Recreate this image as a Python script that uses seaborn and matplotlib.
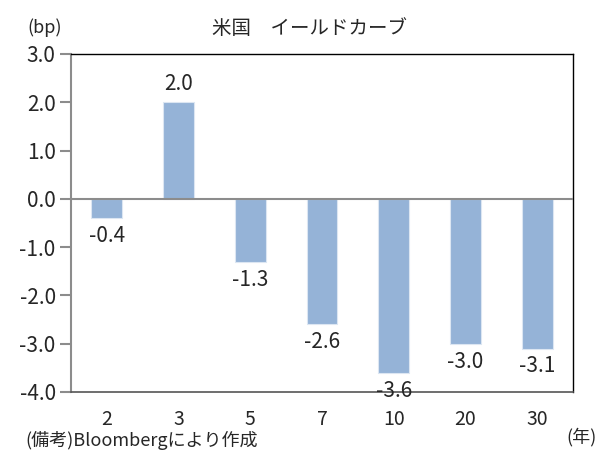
import numpy as np
import pandas as pd
import seaborn as sns
import matplotlib.pyplot as plt
from matplotlib.ticker import FuncFormatter

# yield curve change, bp
maturities = ["2", "3", "5", "7", "10", "20", "30"]
changes = [-0.4, 2.0, -1.3, -2.6, -3.6, -3.0, -3.1]
y_ticks = [3.0, 2.0, 1.0, 0.0, -1.0, -2.0, -3.0, -4.0]

sns.set_style("white")
plt.rcParams['font.family'] = ['Noto Sans CJK JP', 'DejaVu Sans']
plt.rcParams['axes.unicode_minus'] = False

df = pd.DataFrame({"maturity": maturities, "change": changes})

fig = plt.figure(figsize=(6.04, 4.58), dpi=100)
ax = fig.add_axes([71 / 604, 1 - 392 / 458, (573 - 71) / 604, (392 - 54) / 458])

sns.barplot(data=df, x="maturity", y="change", order=maturities, color="#95B3D7",
            saturation=1, width=0.43, edgecolor="#dce6f2", linewidth=0.8, ax=ax)

ax.axhline(0, color="#8c8c8c", linewidth=1.5, zorder=3)
ax.set_ylim(-4.0, 3.0)
ax.set_yticks(y_ticks)
ax.yaxis.set_major_formatter(FuncFormatter(lambda v, p: "%.1f" % v))
ax.set_xlim(-0.5, len(maturities) - 0.5)

ax.bar_label(ax.containers[0], labels=["%.1f" % v for v in changes],
             padding=5, fontsize=15)

for side in ["top", "right"]:
    ax.spines[side].set_color("black")
    ax.spines[side].set_linewidth(1.0)
ax.spines["left"].set_color("#8c8c8c")
ax.spines["left"].set_linewidth(1.5)
ax.spines["bottom"].set_color("#555555")
ax.spines["bottom"].set_linewidth(1.2)

ax.tick_params(axis="y", direction="out", length=8, color="#8c8c8c", width=1.5,
               labelsize=15, pad=3, left=True)
ax.tick_params(axis="x", length=0, labelsize=14, pad=12)
ax.set_xlabel("")
ax.set_ylabel("")

fig.text(27 / 604, 1 - 28 / 458, "(bp)", fontsize=13, va="center", ha="left")
fig.text(310 / 604, 1 - 28 / 458, "米国　イールドカーブ", fontsize=14, va="center", ha="center")
fig.text(25 / 604, 1 - 440 / 458, "(備考)Bloombergにより作成", fontsize=13, va="center", ha="left")
fig.text(597 / 604, 1 - 437 / 458, "(年)", fontsize=13, va="center", ha="right")

plt.savefig("out.png", dpi=100)
plt.close()
